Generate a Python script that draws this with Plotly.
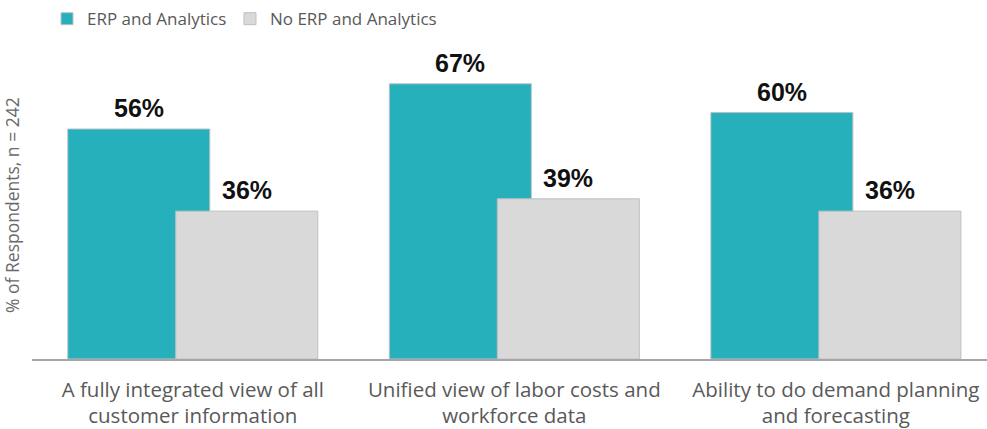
import plotly.graph_objects as go

categories = ["A fully integrated view of all<br>customer information",
              "Unified view of labor costs and<br>workforce data",
              "Ability to do demand planning<br>and forecasting"]
erp_values = [56, 67, 60]
no_erp_values = [36, 39, 36]
series_names = ["ERP and Analytics", "No ERP and Analytics"]

teal = "#26B0BB"
gray = "#D9D9D9"
xs = list(range(len(categories)))

bar_w = 0.4417
teal_off = -0.3888
gray_off = -0.0529

fig = go.Figure()
fig.add_trace(go.Bar(x=xs, y=erp_values, name=series_names[0], legend="legend",
                     marker=dict(color=teal, line=dict(color="#B8C4C6", width=1)),
                     width=bar_w, offset=teal_off))
fig.add_trace(go.Bar(x=xs, y=no_erp_values, name=series_names[1], legend="legend2",
                     marker=dict(color=gray, line=dict(color="#BFBFBF", width=1)),
                     width=bar_w, offset=gray_off))

for i in xs:
    for vals, off in ((erp_values, teal_off), (no_erp_values, gray_off)):
        fig.add_annotation(x=i + off + bar_w / 2, y=vals[i], text=f"{vals[i]}%",
                           showarrow=False, yanchor="bottom", yshift=5,
                           font=dict(family="Liberation Sans, Arial", size=25,
                                     color="#111111", weight="bold"))

fig.add_annotation(xref="paper", yref="paper", x=-0.021, y=0.468,
                   text="% of Respondents, n = 242", textangle=-90,
                   showarrow=False, xanchor="center", yanchor="middle",
                   font=dict(family="Open Sans", size=17.5, color="#6A6A6A"))

legend_common = dict(orientation="h", y=1.033, yanchor="middle",
                     font=dict(family="Open Sans", size=17, color="#595959"),
                     itemwidth=30, bgcolor="rgba(0,0,0,0)")

fig.update_layout(
    width=987, height=429,
    margin=dict(l=32, r=0, t=30, b=70),
    plot_bgcolor="white", paper_bgcolor="white",
    barmode="overlay",
    showlegend=True,
    legend=dict(x=0.0157, xanchor="left", **legend_common),
    legend2=dict(x=0.2073, xanchor="left", **legend_common),
    xaxis=dict(range=[-0.5, 2.47], tickvals=xs, ticktext=categories,
               showline=True, linecolor="#A6A6A6", linewidth=2,
               ticks="", showgrid=False, zeroline=False, ticklabelstandoff=11,
               tickfont=dict(family="Open Sans", size=20.5, color="#595959")),
    yaxis=dict(range=[0, 80.1], showticklabels=False, showgrid=False,
               zeroline=False, showline=False, ticks=""),
)

fig.write_html("out.html", config={"displayModeBar": False},
               post_script="document.body.style.margin='0';")
